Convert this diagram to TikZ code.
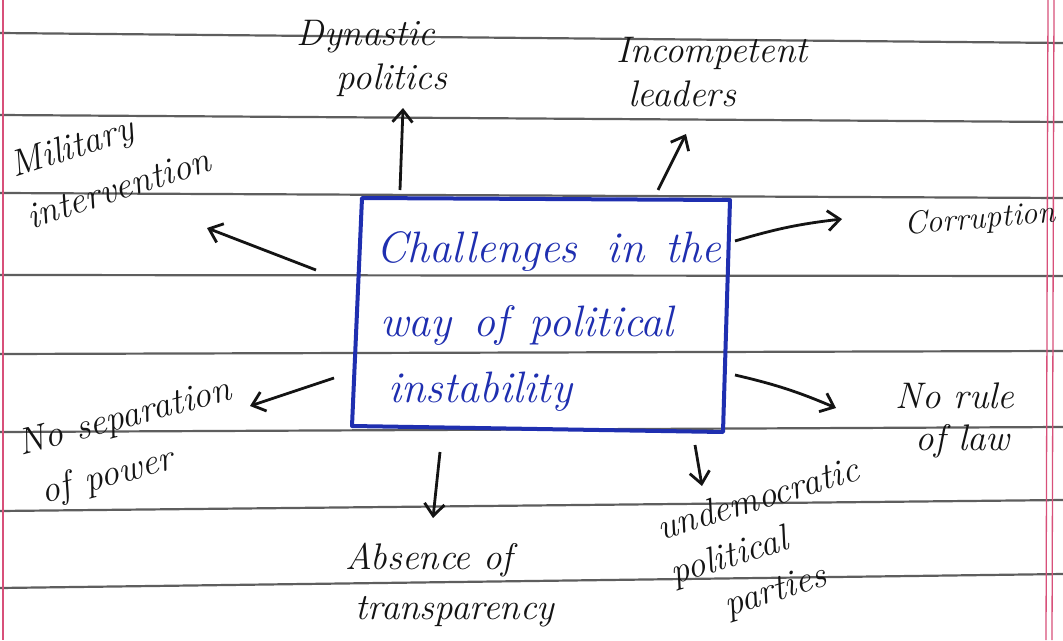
\documentclass[tikz,border=0pt]{standalone}
\usetikzlibrary{arrows.meta}
\definecolor{ink}{HTML}{141414}
\definecolor{blueink}{HTML}{1F2FB0}
\definecolor{rule}{HTML}{5E5E5E}
\definecolor{margin}{HTML}{D8507A}
\begin{document}
\begin{tikzpicture}[x=1pt,y=-1pt,
  ruled/.style={draw=rule,line width=2.2pt},
  marg/.style={draw=margin,line width=1.3pt},
  lbl/.style={text=ink,font=\fontsize{37}{44}\selectfont\itshape,inner sep=0pt,align=left},
  arr/.style={draw=ink,line width=2.8pt,-{Straight Barb[length=12pt,width=20pt,line width=2.8pt]}},
  boxtxt/.style={text=blueink,font=\fontsize{44}{48}\selectfont\itshape,anchor=base west,inner sep=0pt}]
\useasboundingbox[fill=white] (0,0) rectangle (1063,640);
% ruled lines
\draw[ruled] (0,33) -- (1063,43);
\draw[ruled] (0,115) -- (1063,122);
\draw[ruled] (0,193) -- (1063,198);
\draw[ruled] (0,275) -- (1063,276);
\draw[ruled] (0,354) -- (1063,351);
\draw[ruled] (0,432) -- (1063,427);
\draw[ruled] (0,511) -- (1063,500);
\draw[ruled] (0,588) -- (1063,574);
% margins
\draw[marg] (3,0) -- (3,640);
\draw[marg] (1048,0) -- (1046,640);
\draw[marg] (1054,0) -- (1052,640);
% central box
\draw[blueink,line width=4pt,line join=round] (362,198) coordinate (boxTL) -- (730,200) coordinate (boxTR) -- (723,432) coordinate (boxBR) -- (352,426) coordinate (boxBL) -- cycle;
\node[boxtxt] (c1) at (376,262) {Challenges\hspace{14pt} in\hspace{6pt} the};
\node[boxtxt] (c2) at (380,336) {way\hspace{6pt} of\hspace{6pt} political};
\node[boxtxt] (c3) at (388,402) {instability};
% labels
\node[lbl] (dyn) at (372,58) {Dynastic\\\hspace*{40pt}politics};
\node[lbl] (inc) at (712,72) {Incompetent\\\hspace*{12pt}leaders};
\node[lbl,rotate=18,font=\fontsize{37}{54}\selectfont\itshape] (mil) at (110,162) {Military\\intervention};
\node[lbl,rotate=5,font=\fontsize{32}{40}\selectfont\itshape] (cor) at (980,220) {Corruption};
\node[lbl,rotate=15,font=\fontsize{37}{52}\selectfont\itshape] (nosep) at (132,444) {No separation\\\hspace*{10pt}of\hspace{14pt}power};
\node[lbl,font=\fontsize{37}{42}\selectfont\itshape] (norule) at (955,420) {No rule\\\hspace*{20pt}of law};
\node[lbl,font=\fontsize{37}{50}\selectfont\itshape] (abs) at (450,585) {Absence of\\\hspace*{10pt}transparency};
\node[lbl,rotate=17,font=\fontsize{37}{46}\selectfont\itshape] (undem) at (772,545) {undemocratic\\political\\\hspace*{42pt}parties};
% arrow end points
\coordinate (dynS) at (400,190); \coordinate (dynE) at (403,108);
\coordinate (incS) at (658,190); \coordinate (incE) at (686,134);
\coordinate (milS) at (316,270); \coordinate (milE) at (207,228);
\coordinate (corS) at (735,241); \coordinate (corE) at (842,219);
\coordinate (sepS) at (334,378); \coordinate (sepE) at (250,406);
\coordinate (rulS) at (735,375); \coordinate (rulE) at (836,408);
\coordinate (absS) at (440,452); \coordinate (absE) at (433,518);
\coordinate (undS) at (695,445); \coordinate (undE) at (702,486);
\draw[arr] (dynS) -- (dynE);
\draw[arr] (incS) -- (incE);
\draw[arr] (milS) -- (milE);
\draw[arr] (corS) to[bend left=5] (corE);
\draw[arr] (sepS) -- (sepE);
\draw[arr] (rulS) to[bend left=5] (rulE);
\draw[arr] (absS) -- (absE);
\draw[arr] (undS) -- (undE);
\end{tikzpicture}
\end{document}
